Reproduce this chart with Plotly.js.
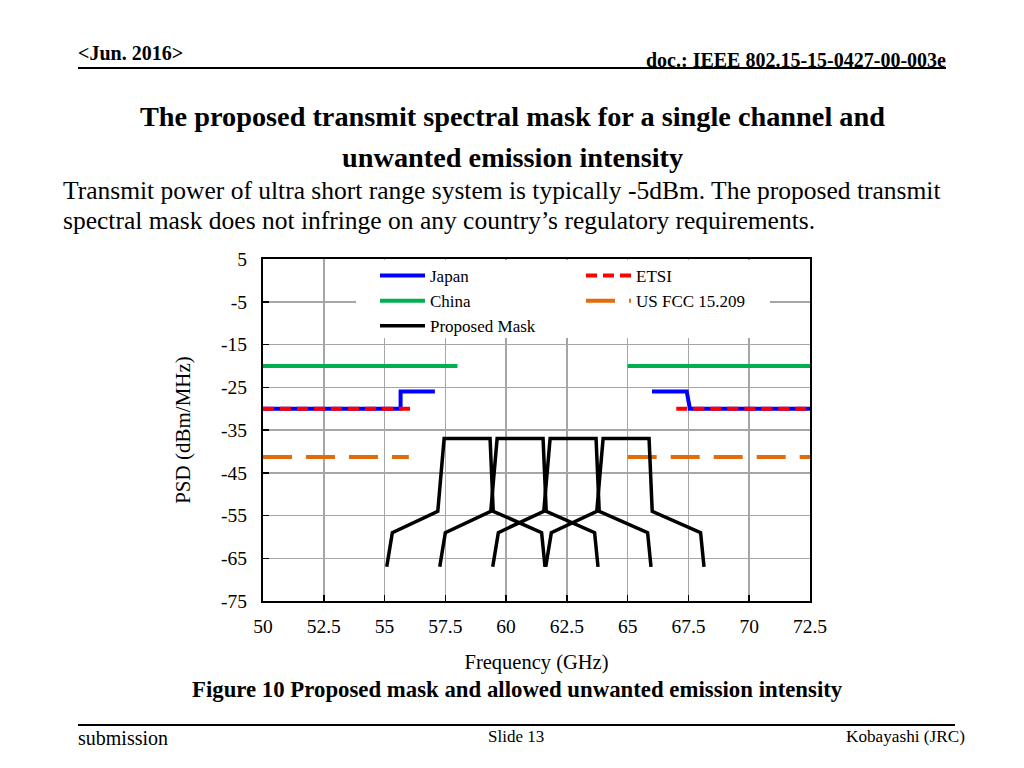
<!DOCTYPE html>
<html>
<head>
<meta charset="utf-8">
<script src="https://cdn.plot.ly/plotly-3.0.1.min.js"></script>
<style>
  html, body { margin: 0; padding: 0; background: #ffffff; }
  #chart { width: 1024px; height: 768px; }
</style>
</head>
<body>
<div id="chart"></div>
<script>
// ---------------- data ----------------
const xTickVals = [50, 52.5, 55, 57.5, 60, 62.5, 65, 67.5, 70, 72.5];
const xTickText = ["50", "52.5", "55", "57.5", "60", "62.5", "65", "67.5", "70", "72.5"];
const yTickVals = [5, -5, -15, -25, -35, -45, -55, -65, -75];
const yTickText = ["5", "-5", "-15", "-25", "-35", "-45", "-55", "-65", "-75"];

const japanX = [50, 55.66, 55.66, 57.07, null, 66.0, 67.43, 67.56, 72.5];
const japanY = [-30, -30, -26, -26, null, -26, -26, -30, -30];

const chinaX = [50, 58, null, 65, 72.5];
const chinaY = [-20, -20, null, -20, -20];

const etsiX = [50, 56.05, null, 67.0, 72.5];
const etsiY = [-30, -30, null, -30, -30];

const fccX = [50, 56, null, 65, 72.5];
const fccY = [-41.3, -41.3, null, -41.3, -41.3];

// proposed mask, four channels
const ch1X = [55.09, 55.32, 57.19, 57.45, 59.34, 59.47, 61.46, 61.60];
const ch2X = [57.27, 57.50, 59.37, 59.63, 61.52, 61.65, 63.64, 63.78];
const ch3X = [59.45, 59.68, 61.55, 61.81, 63.70, 63.83, 65.82, 65.96];
const ch4X = [61.63, 61.86, 63.73, 63.99, 65.88, 66.01, 68.00, 68.14];
const maskY = [-67, -59, -54, -37, -37, -54, -59, -67];

// ---------------- build ----------------
const channels = [ch1X, ch2X, ch3X, ch4X];
let maskX = [], maskYAll = [];
channels.forEach((cx, i) => {
  if (i > 0) { maskX.push(null); maskYAll.push(null); }
  maskX = maskX.concat(cx);
  maskYAll = maskYAll.concat(maskY);
});

const serif = "Liberation Serif, Times New Roman, serif";

const traces = [
  { x: chinaX, y: chinaY, name: "China", mode: "lines", legend: "legend", legendgroup: "g2", legendrank: 2,
    line: { color: "#00b050", width: 4 }, connectgaps: false },
  { x: japanX, y: japanY, name: "Japan", mode: "lines", legend: "legend", legendgroup: "g1", legendrank: 1,
    line: { color: "#0000ff", width: 4 }, connectgaps: false },
  { x: etsiX, y: etsiY, name: "ETSI", mode: "lines", legend: "legend2", legendgroup: "g4", legendrank: 1,
    line: { color: "#ff0000", width: 4, dash: "11px,6px" }, connectgaps: false },
  { x: fccX, y: fccY, name: "US FCC 15.209", mode: "lines", legend: "legend2", legendgroup: "g5", legendrank: 2,
    line: { color: "#e36c0a", width: 4, dash: "29px,14px" }, connectgaps: false },
  { x: maskX, y: maskYAll, name: "Proposed Mask", mode: "lines", legend: "legend", legendgroup: "g3", legendrank: 3,
    line: { color: "#000000", width: 3.5 }, connectgaps: false }
];

// pixel -> paper helpers (plot area 263..810 x, 259..601 y)
const L = 263, R = 810, T = 259, B = 601;
const px = v => (v - L) / (R - L);
const py = v => (B - v) / (B - T);

function ann(text, x, y, size, opts) {
  return Object.assign({
    text: text, xref: "paper", yref: "paper", x: px(x), y: py(y),
    showarrow: false, xanchor: "left", yanchor: "middle", borderpad: 0,
    font: { family: serif, size: size, color: "#000000" }
  }, opts || {});
}

const annotations = [
  ann("<b>&lt;Jun. 2016&gt;</b>", 77, 53, 20),
  ann("<b>doc.: IEEE 802.15-15-0427-00-003e</b>", 947, 60, 20, { xanchor: "right" }),
  ann("<b>The proposed transmit spectral mask for a single channel and</b>", 512, 116, 28.3, { xanchor: "center" }),
  ann("<b>unwanted emission intensity</b>", 512, 157, 28.3, { xanchor: "center" }),
  ann("Transmit power of ultra short range system is typically -5dBm. The proposed transmit", 62, 191, 25.5),
  ann("spectral mask does not infringe on any country\u2019s regulatory requirements.", 62, 220, 25.5),
  ann("<b>Figure 10 Proposed mask and allowed unwanted emission intensity</b>", 517, 689, 22.8, { xanchor: "center" }),
  ann("submission", 77, 738, 20),
  ann("Slide 13", 516, 736, 17, { xanchor: "center" }),
  ann("Kobayashi (JRC)", 966, 736, 17.2, { xanchor: "right" })
];

const shapes = [
  { type: "line", xref: "paper", yref: "paper", x0: px(78), x1: px(946), y0: py(68), y1: py(68),
    line: { color: "#000000", width: 2 } },
  { type: "line", xref: "paper", yref: "paper", x0: px(78), x1: px(955), y0: py(725), y1: py(725),
    line: { color: "#000000", width: 2 } },
  { type: "rect", xref: "paper", yref: "paper", x0: px(356), x1: px(770), y0: py(338), y1: py(260),
    line: { width: 0 }, fillcolor: "#ffffff", layer: "above" }
];

const layout = {
  width: 1024, height: 768,
  margin: { l: L, r: 1024 - R, t: T, b: 768 - B },
  paper_bgcolor: "#ffffff", plot_bgcolor: "#ffffff",
  font: { family: serif, size: 18, color: "#000000" },
  showlegend: true,
  xaxis: {
    range: [50, 72.5], tickvals: xTickVals, ticktext: xTickText,
    showgrid: true, gridcolor: "#a6a6a6", gridwidth: 1.5,
    showline: true, linecolor: "#000000", linewidth: 2, mirror: true,
    ticks: "inside", ticklen: 6, tickwidth: 1.5, tickcolor: "#000000",
    ticklabelstandoff: 7,
    zeroline: false, tickfont: { family: serif, size: 19.5 },
    title: { text: "Frequency (GHz)", font: { family: serif, size: 20.5 }, standoff: 18 },
    fixedrange: true
  },
  yaxis: {
    range: [-75, 5], tickvals: yTickVals, ticktext: yTickText,
    showgrid: true, gridcolor: "#a6a6a6", gridwidth: 1.5,
    showline: true, linecolor: "#000000", linewidth: 2, mirror: true,
    ticks: "inside", ticklen: 6, tickwidth: 1.5, tickcolor: "#000000",
    ticklabelstandoff: 10,
    zeroline: false, tickfont: { family: serif, size: 19.5 },
    title: { text: "PSD (dBm/MHz)", font: { family: serif, size: 21 }, standoff: 25 },
    fixedrange: true
  },
  legend: {
    x: px(375), y: py(258), xanchor: "left", yanchor: "top",
    bgcolor: "rgba(0,0,0,0)", borderwidth: 0, itemwidth: 45,
    font: { family: serif, size: 17 }, tracegroupgap: 0, traceorder: "grouped"
  },
  legend2: {
    x: px(581), y: py(258), xanchor: "left", yanchor: "top",
    bgcolor: "rgba(0,0,0,0)", borderwidth: 0, itemwidth: 45,
    font: { family: serif, size: 17 }, tracegroupgap: 0, traceorder: "grouped"
  },
  annotations: annotations,
  shapes: shapes
};

Plotly.newPlot("chart", traces, layout, { staticPlot: true, displayModeBar: false });
</script>
</body>
</html>
